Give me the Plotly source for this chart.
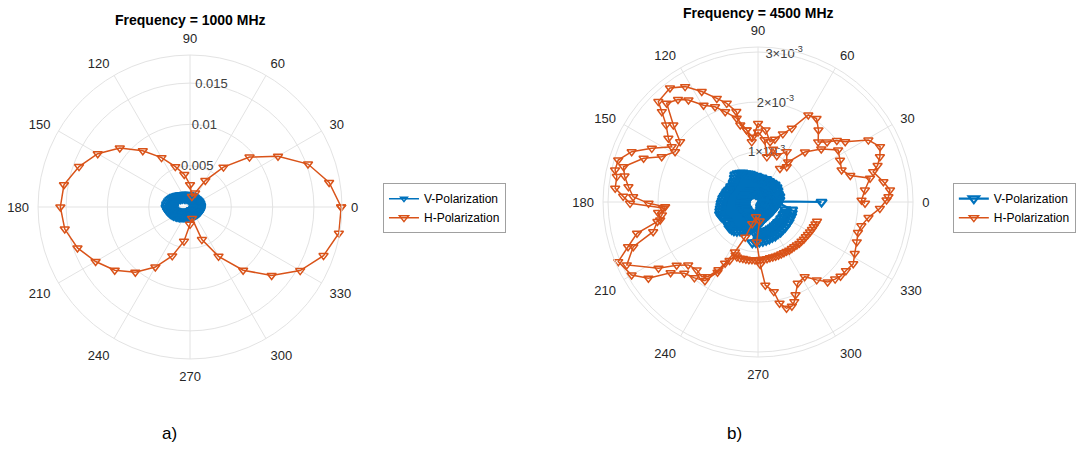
import numpy as np
import plotly.graph_objects as go

# ---------------- data ----------------
# 1000 MHz, H-polarization (10 degree steps, closed)
h1000_theta = [0, 10, 20, 30, 40, 50, 60, 70, 80, 90, 100, 110, 120, 130, 140, 150, 160, 170,
               180, 190, 200, 210, 220, 230, 240, 250, 260, 270, 280, 290, 300, 310, 320, 330,
               340, 350, 360]
h1000_r = [0.0183, 0.0171, 0.0152, 0.0123, 0.0094, 0.0063, 0.0037, 0.0018, 0.0013, 0.0027,
           0.0040, 0.0052, 0.0069, 0.0089, 0.0111, 0.0129, 0.0143, 0.0155, 0.0157, 0.0154,
           0.0145, 0.0132, 0.0119, 0.0103, 0.0084, 0.0063, 0.0042, 0.0021, 0.0014, 0.0042,
           0.0069, 0.0100, 0.0129, 0.0154, 0.0172, 0.0183, 0.0183]

# 1000 MHz, V-polarization (2 degree steps), values in 1e-3
v1000_theta = list(range(0, 360, 2))
v1000_r_milli = [
    1.45, 0.35, 1.50, 0.50, 1.42, 0.30, 1.48, 0.55, 1.40, 0.40, 1.47, 0.60, 1.38, 0.35, 1.45,
    0.50, 1.40, 0.62, 1.44, 0.40, 1.36, 0.55, 1.42, 0.45, 1.35, 0.65, 1.40, 0.50, 1.38, 0.70,
    1.42, 0.45, 1.40, 0.60, 1.45, 0.75, 1.43, 0.50, 1.48, 0.70, 1.50, 0.60, 1.47, 0.80, 1.52,
    0.65, 1.50, 0.85, 1.55, 0.70, 1.60, 0.90, 1.58, 0.80, 1.65, 1.00, 1.70, 0.85, 1.75, 1.10,
    1.80, 0.95, 1.85, 1.20, 1.95, 1.05, 2.05, 1.30, 2.15, 1.20, 2.25, 1.45, 2.35, 1.35, 2.50,
    1.60, 2.60, 1.55, 2.70, 1.75, 2.80, 1.70, 2.90, 1.85, 2.95, 1.75, 3.05, 1.90, 3.05, 1.80,
    3.10, 1.95, 3.00, 1.75, 2.95, 1.85, 2.85, 1.55, 2.75, 1.40, 2.65, 1.25, 2.55, 1.10, 2.45,
    1.00, 2.35, 0.90, 2.20, 0.80, 2.10, 0.75, 2.00, 0.65, 1.90, 0.70, 1.80, 0.55, 1.72, 0.60,
    1.65, 0.50, 1.60, 0.55, 1.52, 0.45, 1.48, 0.50, 1.42, 0.35, 1.38, 0.45, 1.35, 0.30, 1.33,
    0.40, 1.30, 0.30, 1.28, 0.45, 1.27, 0.35, 1.26, 0.50, 1.27, 0.35, 1.26, 0.45, 1.27, 0.30,
    1.28, 0.50, 1.27, 0.35, 1.30, 0.45, 1.30, 0.30, 1.33, 0.50, 1.35, 0.35, 1.36, 0.45, 1.38,
    0.30, 1.40, 0.50, 1.40, 0.35, 1.42, 0.45, 1.43, 0.30, 1.45, 0.50, 1.44, 0.35, 1.46, 0.45]

# 4500 MHz, H-polarization, values in 1e-3
h4500_theta = [
    359.3, 1, 6.4, 12, 16, 21, 27, 33, 40, 46.8, 53, 56.8, 50.9, 60.3, 68, 74, 79, 84, 90, 95,
    99, 104.3, 110, 114.3, 119.4, 124.3, 128, 132.8, 137.7, 142.3, 148.8, 154.8, 159.1, 165.3,
    169, 173.3, 177.6, 180.7, 182.9, 187.7, 191, 195.8, 199.7, 205.6, 213.6, 217.8, 222, 227.9,
    233, 236, 239.7, 241.7, 245.2,
    250, 255, 262, 275, 268, 272,
    275, 280, 282, 285, 288, 290, 292, 296, 302, 307, 311, 315, 318, 322, 327, 332, 338, 343,
    347, 352, 357,
    0.9, 2.3, 5.2, 9.2, 14.7, 17, 20.4, 24.4, 29.3, 34.7, 38, 41, 45, 50, 55, 60, 65.4, 70, 75,
    78.7, 84, 90, 96, 99, 103, 103.5, 107.6, 111.7, 117, 122.3, 127.7, 134.8, 136.8, 140, 144.6,
    147.4, 153.2, 158.3, 163.3, 167.4, 169.8, 174.5, 177.6, 180.6, 183.6, 186, 190.4, 194.5, 199,
    203.1, 210, 214.8, 219, 224, 230, 236, 240, 244, 247,
    249, 252, 255, 258, 261, 264, 267, 270, 273, 276, 279, 282, 285, 288, 291, 294, 297, 300,
    303, 306, 309, 312, 315, 318, 321, 324, 327, 330, 333, 336, 339, 342]
h4500_r_milli = [
    2.14, 2.07, 2.15, 2.29, 1.92, 1.79, 1.84, 1.91, 1.65, 1.37, 1.00, 0.80, 0.91, 1.16, 1.00,
    1.10, 0.92, 1.25, 1.40, 1.30, 1.46, 1.73, 1.92, 2.09, 2.22, 2.47, 2.60, 2.69, 2.29, 1.97,
    1.94, 2.13, 2.45, 2.78, 2.72, 2.61, 2.50, 2.19, 1.86, 1.94, 2.05, 2.18, 2.65, 2.91, 2.39,
    2.06, 1.88, 1.83, 1.87, 1.80, 1.57, 1.39, 1.10,
    0.75, 0.45, 0.30, 0.38, 0.80, 1.25,
    1.67, 1.82, 2.07, 2.20, 2.19, 2.12, 2.00, 1.81, 1.76, 1.95, 2.12, 2.18, 2.22, 2.23, 2.27,
    2.19, 2.13, 2.09, 2.12, 2.23, 2.44,
    2.57, 2.61, 2.65, 2.54, 2.38, 2.50, 2.60, 2.68, 2.53, 2.12, 2.00, 1.83, 1.70, 1.88, 2.04,
    2.01, 1.62, 1.45, 1.30, 1.23, 1.45, 1.57, 1.21, 1.46, 1.58, 1.86, 2.07, 2.23, 2.48, 2.73,
    2.88, 2.83, 2.64, 2.40, 2.20, 2.05, 2.38, 2.72, 2.92, 2.93, 2.87, 2.87, 2.70, 2.56, 1.90,
    2.01, 1.99, 2.50, 2.75, 3.04, 2.92, 2.67, 2.25, 2.05, 1.98, 1.90, 1.62, 1.30, 1.15,
    1.18, 1.18, 1.17, 1.17, 1.17, 1.16, 1.16, 1.16, 1.15, 1.15, 1.15, 1.14, 1.14, 1.14, 1.14,
    1.14, 1.14, 1.14, 1.15, 1.15, 1.15, 1.16, 1.17, 1.17, 1.18, 1.18, 1.19, 1.20, 1.21, 1.22,
    1.23, 1.24]

# 4500 MHz, V-polarization, values in 1e-3
# (one stray sample at 0 deg, the main cluster in 2 degree steps, then the lower-right arc)
v4500_theta = [0] + list(range(2, 360, 2)) + [
    347, 344.5, 342, 339.5, 337, 334.5, 332, 329.5, 327, 324.5, 322, 319.5, 317, 314.5, 312,
    309.5, 307, 304.5, 302, 299.5, 297, 294.5, 292, 289.5, 287, 284.5, 282, 279.5, 277, 274.5,
    272, 269.5, 267, 264.5, 262]
v4500_r_milli = [
    1.27,
    0.41, 0.10, 0.43, 0.16, 0.40, 0.12, 0.44, 0.18, 0.42, 0.10, 0.43, 0.17, 0.41, 0.12, 0.45,
    0.19, 0.44, 0.11, 0.47, 0.17, 0.45, 0.13, 0.48, 0.20, 0.46, 0.12, 0.47, 0.18, 0.45, 0.11,
    0.47, 0.19, 0.46, 0.13, 0.48, 0.20, 0.46, 0.12, 0.47, 0.18, 0.49, 0.14, 0.47, 0.20, 0.50,
    0.15, 0.52, 0.22, 0.51, 0.16, 0.55, 0.23, 0.58, 0.17, 0.60, 0.25, 0.62, 0.19, 0.66, 0.26,
    0.68, 0.20, 0.70, 0.28, 0.71, 0.21, 0.67, 0.27, 0.63, 0.20, 0.62, 0.28, 0.60, 0.22, 0.62,
    0.29, 0.61, 0.21, 0.63, 0.30, 0.65, 0.23, 0.66, 0.31, 0.68, 0.24, 0.70, 0.32, 0.71, 0.25,
    0.73, 0.33, 0.74, 0.26, 0.76, 0.34, 0.78, 0.27, 0.80, 0.35, 0.79, 0.28, 0.76, 0.34, 0.74,
    0.27, 0.72, 0.35, 0.75, 0.28, 0.77, 0.34, 0.76, 0.27, 0.75, 0.33, 0.72, 0.30, 0.68, 0.35,
    0.65, 0.30, 0.62, 0.33, 0.60, 0.30, 0.57, 0.32, 0.54, 0.28, 0.51, 0.31, 0.48, 0.27, 0.45,
    0.30, 0.43, 0.24, 0.40, 0.26, 0.38, 0.20, 0.36, 0.22, 0.34, 0.16, 0.33, 0.18, 0.33, 0.12,
    0.32, 0.16, 0.32, 0.11, 0.32, 0.15, 0.32, 0.10, 0.32, 0.16, 0.32, 0.11, 0.33, 0.15, 0.33,
    0.10, 0.34, 0.16, 0.34, 0.11, 0.35, 0.17, 0.36, 0.11, 0.38, 0.17, 0.39, 0.12, 0.40,
    0.70, 0.57, 0.71, 0.58, 0.72, 0.57, 0.72, 0.58, 0.73, 0.57, 0.73, 0.58, 0.74, 0.57, 0.74,
    0.58, 0.75, 0.58, 0.75, 0.59, 0.76, 0.59, 0.76, 0.60, 0.77, 0.60, 0.78, 0.61, 0.79, 0.62,
    0.80, 0.62, 0.81, 0.63, 0.82]

angle_ticks = list(range(0, 360, 30))
angle_labels = [str(a) for a in angle_ticks]

r_ticks_1000 = [0.005, 0.01, 0.015]
r_labels_1000 = ["0.005", "0.01", "0.015"]
r_max_1000 = 0.0184

r_ticks_4500 = [0.001, 0.002, 0.003]
r_labels_4500 = ["1\u00d710<sup>-3</sup>", "2\u00d710<sup>-3</sup>", "3\u00d710<sup>-3</sup>"]
r_max_4500 = 0.0031

# ---------------- styling ----------------
BLUE = "#0072BD"
ORANGE = "#D95319"
GRID = "#e3e3e3"
TXT = "#262626"
FONT = "Liberation Sans, Arial, sans-serif"
R_LABEL_ANGLE = 80

fig = go.Figure()


def add_panel(subplot, legend, v_theta, v_r, h_theta, h_r, r_ticks, r_labels, v_size, v_width):
    # radial tick labels sit on the rings, drawn first so the data covers them
    fig.add_trace(go.Scatterpolar(
        r=r_ticks, theta=[R_LABEL_ANGLE] * len(r_ticks), text=r_labels, mode="text",
        textfont=dict(family=FONT, size=13, color="#404040"), textposition="middle center",
        hoverinfo="skip", showlegend=False, subplot=subplot))
    fig.add_trace(go.Scatterpolar(
        r=v_r, theta=v_theta, mode="lines+markers", name="V-Polarization",
        line=dict(color=BLUE, width=v_width),
        marker=dict(symbol="triangle-down-open", size=v_size, color=BLUE,
                    line=dict(width=v_width)),
        subplot=subplot, legend=legend))
    fig.add_trace(go.Scatterpolar(
        r=h_r, theta=h_theta, mode="lines+markers", name="H-Polarization",
        line=dict(color=ORANGE, width=1.5),
        marker=dict(symbol="triangle-down-open", size=8, color=ORANGE, line=dict(width=1.5)),
        subplot=subplot, legend=legend))


add_panel("polar", "legend", v1000_theta, np.array(v1000_r_milli) * 1e-3,
          h1000_theta, h1000_r, r_ticks_1000, r_labels_1000, 6, 1.5)
add_panel("polar2", "legend2", v4500_theta, np.array(v4500_r_milli) * 1e-3,
          h4500_theta, np.array(h4500_r_milli) * 1e-3, r_ticks_4500, r_labels_4500, 9, 2.2)


def polar_layout(x_dom, y_dom, r_max, r_ticks):
    return dict(
        domain=dict(x=x_dom, y=y_dom),
        bgcolor="white",
        angularaxis=dict(
            direction="counterclockwise", rotation=0, tickmode="array",
            tickvals=angle_ticks, ticktext=angle_labels,
            showgrid=True, gridcolor=GRID, gridwidth=1,
            showline=True, linecolor=GRID, linewidth=1,
            ticks="outside", ticklen=6, tickcolor="rgba(0,0,0,0)",
            tickfont=dict(family=FONT, size=13, color=TXT)),
        radialaxis=dict(
            range=[0, r_max], tickmode="array", tickvals=r_ticks,
            showticklabels=False, ticks="", showline=False,
            showgrid=True, gridcolor=GRID, gridwidth=1, angle=R_LABEL_ANGLE))


legend_style = dict(
    xanchor="left", yanchor="top", bgcolor="white", bordercolor="#a0a0a0", borderwidth=1,
    font=dict(family=FONT, size=12, color="#000000"), tracegroupgap=0)

fig.update_layout(
    width=1084, height=472,
    margin=dict(l=0, r=0, t=0, b=0),
    paper_bgcolor="white",
    polar=polar_layout([0.0351, 0.3155], [0.2394, 0.8835], r_max_1000, r_ticks_1000),
    polar2=polar_layout([0.5563, 0.8423], [0.2436, 0.9004], r_max_4500, r_ticks_4500),
    legend=dict(x=0.3533, y=0.612, **legend_style),
    legend2=dict(x=0.879, y=0.612, **legend_style),
    annotations=[
        dict(text="<b>Frequency = 1000 MHz</b>", x=0.1753, y=0.9576, xref="paper", yref="paper",
             xanchor="center", yanchor="middle", showarrow=False,
             font=dict(family=FONT, size=14, color="#000000")),
        dict(text="<b>Frequency = 4500 MHz</b>", x=0.6993, y=0.9725, xref="paper", yref="paper",
             xanchor="center", yanchor="middle", showarrow=False,
             font=dict(family=FONT, size=14, color="#000000")),
        dict(text="a)", x=0.1568, y=0.0826, xref="paper", yref="paper",
             xanchor="center", yanchor="middle", showarrow=False,
             font=dict(family=FONT, size=17, color="#000000")),
        dict(text="b)", x=0.678, y=0.0826, xref="paper", yref="paper",
             xanchor="center", yanchor="middle", showarrow=False,
             font=dict(family=FONT, size=17, color="#000000")),
    ],
)

fig.write_html("out.html")
